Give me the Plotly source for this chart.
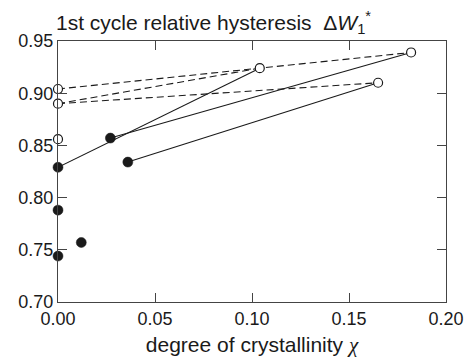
import plotly.graph_objects as go

# open circles (after)
open_x = [0.0, 0.0, 0.0, 0.104, 0.182, 0.165]
open_y = [0.904, 0.890, 0.856, 0.924, 0.939, 0.910]
# filled circles (before)
filled_x = [0.0, 0.027, 0.036, 0.0, 0.012, 0.0]
filled_y = [0.829, 0.857, 0.834, 0.788, 0.757, 0.744]

# solid connections: (filled index -> open index)
solid_pairs = [(0, 3), (1, 4), (2, 5)]
# dashed connections: (open index -> open index)
dashed_pairs = [(0, 4), (1, 3), (1, 5)]

x_ticks = [0.00, 0.05, 0.10, 0.15, 0.20]
x_ticklabels = ["0.00", "0.05", "0.10", "0.15", "0.20"]
y_ticks = [0.70, 0.75, 0.80, 0.85, 0.90, 0.95]
y_ticklabels = ["0.70", "0.75", "0.80", "0.85", "0.90", "0.95"]

sx, sy = [], []
for a, b in solid_pairs:
    sx += [filled_x[a], open_x[b], None]
    sy += [filled_y[a], open_y[b], None]
dx, dy = [], []
for a, b in dashed_pairs:
    dx += [open_x[a], open_x[b], None]
    dy += [open_y[a], open_y[b], None]

fig = go.Figure()
fig.add_trace(go.Scatter(x=sx, y=sy, mode="lines", line=dict(color="#1a1a1a", width=1.1),
                         hoverinfo="skip", cliponaxis=False))
fig.add_trace(go.Scatter(x=dx, y=dy, mode="lines", line=dict(color="#1a1a1a", width=1.1, dash="7px,4px"),
                         hoverinfo="skip", cliponaxis=False))
fig.add_trace(go.Scatter(x=filled_x, y=filled_y, mode="markers", cliponaxis=False,
                         marker=dict(size=10, color="#1a1a1a", line=dict(color="#1a1a1a", width=0.5))))
fig.add_trace(go.Scatter(x=open_x, y=open_y, mode="markers", cliponaxis=False,
                         marker=dict(size=9, color="white", line=dict(color="#1a1a1a", width=1.2))))

axis_common = dict(showline=True, linecolor="#444", linewidth=1.3, mirror="ticks",
                   ticks="inside", ticklen=9, tickwidth=1.3, tickcolor="#444",
                   showgrid=False, zeroline=False, automargin=False,
                   tickfont=dict(family="Liberation Sans, Arial", size=18, color="#1a1a1a"))

fig.update_layout(
    width=464, height=361,
    margin=dict(l=58, r=18, t=41, b=59),
    paper_bgcolor="white", plot_bgcolor="white",
    showlegend=False,
    xaxis=dict(range=[0, 0.20], tickvals=x_ticks, ticktext=x_ticklabels,
               title=dict(text="degree of crystallinity <span style=\"font-family:'Liberation Serif';font-style:italic\">χ</span>",
                          font=dict(family="Liberation Sans, Arial", size=21, color="#1a1a1a"), standoff=9),
               **axis_common),
    yaxis=dict(range=[0.70, 0.95], tickvals=y_ticks, ticktext=y_ticklabels, **axis_common),
    annotations=[dict(text="1st cycle relative hysteresis  Δ<i>W</i><sub>1</sub><sup>*</sup>",
                      xref="paper", yref="paper", x=0, y=1, xanchor="left", yanchor="bottom",
                      yshift=2, xshift=-4, showarrow=False,
                      font=dict(family="Liberation Sans, Arial", size=21, color="#1a1a1a"))],
)

fig.write_html("out.html")
